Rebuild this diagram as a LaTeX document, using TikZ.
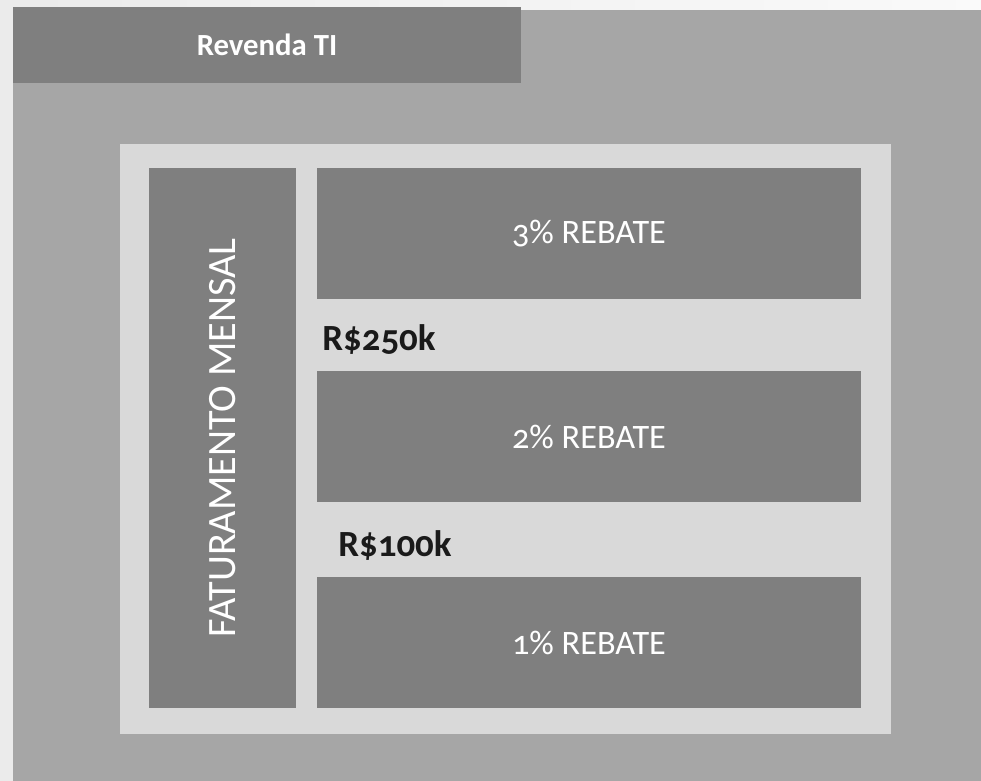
\documentclass[tikz,border=0pt]{standalone}
\usepackage{fontspec}
\setmainfont{Carlito}[Numbers=OldStyle]
\usetikzlibrary{positioning}
\definecolor{pagebg}{HTML}{F5F5F5}
\definecolor{outergray}{HTML}{A6A6A6}
\definecolor{darkgray}{HTML}{7F7F7F}
\definecolor{lightgray}{HTML}{D9D9D9}
\definecolor{labelink}{HTML}{1A1A1A}
\begin{document}
\begin{tikzpicture}
  [x=0.02cm, y=-0.02cm]
  \tikzstyle{panel} = [inner sep=0pt, outer sep=0pt, draw=none];
  \tikzstyle{dark_box}  = [panel, fill=darkgray, text=white];
  \tikzstyle{rebate_box} = [dark_box, minimum width=10.88cm, minimum height=2.62cm,
                            font=\fontsize{19.5}{22}\selectfont];
  \tikzstyle{limit_label} = [inner sep=0pt, anchor=base west, text=labelink,
                             font=\bfseries\fontsize{21}{24}\selectfont];

  \useasboundingbox (0, 0) rectangle (981, 781);
  \shade[left color=black!8, right color=black!2] (0, 0) rectangle (981, 781);

  % outer frame and title
  \node[panel, fill=outergray, minimum width=19.36cm, minimum height=15.42cm]
    (outer) at (497, 395.5) {};
  \node[dark_box, minimum width=10.16cm, minimum height=1.52cm,
        font=\bfseries\fontsize{17.5}{20}\selectfont]
    (title) at (267, 45) {Revenda TI};

  % inner panel
  \node[panel, fill=lightgray, minimum width=15.42cm, minimum height=11.8cm]
    (inner) at (505.5, 439) {};
  \node[dark_box, minimum width=2.94cm, minimum height=10.8cm]
    (bar) at (222.5, 438) {};
  \node[text=white, rotate=90, inner sep=0pt, font=\fontsize{22.9}{26}\selectfont]
    (barlabel) at (bar.center) {FATURAMENTO MENSAL};

  \node[rebate_box] (rebate3) at (589, 233.5) {3\% REBATE};
  \node[rebate_box] (rebate2) at (589, 436.5) {2\% REBATE};
  \node[rebate_box] (rebate1) at (589, 642.5) {1\% REBATE};

  \node[limit_label] (limit250) at (322, 350) {R\$250k};
  \node[limit_label] (limit100) at (338, 556) {R\$100k};

\end{tikzpicture}
\end{document}
